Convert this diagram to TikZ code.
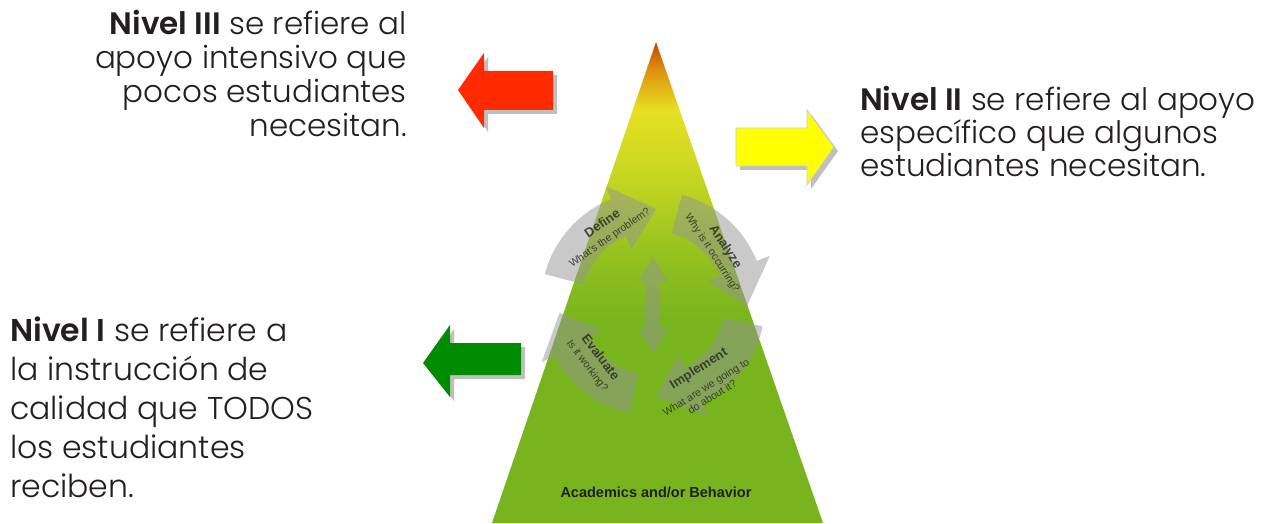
\documentclass[tikz,border=0pt]{standalone}
\usepackage{fontspec}
\setmainfont{Poppins}[UprightFont={* Light}, BoldFont={* SemiBold}]
\newfontfamily\arialfont{Liberation Sans}
\usetikzlibrary{calc}
\definecolor{txt}{HTML}{231F20}
\definecolor{pgreen}{HTML}{78B41E}
\definecolor{pgtwo}{HTML}{96C21F}
\definecolor{pgthree}{HTML}{C4D622}
\definecolor{pyel}{HTML}{E6E022}
\definecolor{porange}{HTML}{E0900F}
\definecolor{pdark}{HTML}{C24800}
\definecolor{redarr}{HTML}{FF2A00}
\definecolor{yelarr}{HTML}{FFFF00}
\definecolor{grnarr}{HTML}{008C00}
\definecolor{cycgray}{HTML}{959595}
\definecolor{cyctext}{HTML}{2A2E24}
\pgfdeclareverticalshading{pyr}{100bp}{color(0bp)=(pgreen); color(25bp)=(pgreen); color(46bp)=(pgreen); color(53.4bp)=(pgtwo); color(60.7bp)=(pgthree); color(67.9bp)=(pyel); color(72.1bp)=(porange); color(75bp)=(pdark); color(100bp)=(pdark)}
\tikzset{
  bigtext/.style={inner sep=0pt, text=txt, font=\fontsize{31}{34}\selectfont},
  cyc/.style={fill=cycgray, fill opacity=0.5},
  cyct/.style={inner sep=0pt, text=cyctext, text opacity=0.85, align=center},
  cyctitle/.style={cyct, font=\arialfont\bfseries\fontsize{13}{13}\selectfont},
  cycsub/.style={cyct, font=\arialfont\fontsize{10.5}{11.5}\selectfont},
  shadowfill/.style={fill=black, fill opacity=0.25},
}
\newcommand\cyclearrow[3]{%
  \fill[cyc] ($(C)+(#1:112)$) arc[start angle=#1, end angle=#2, radius=112]
    -- ($(C)+(#2:126)$) -- ($(C)+(#3:94)$) -- ($(C)+(#2:58)$) -- ($(C)+(#2:72)$)
    arc[start angle=#2, end angle=#1, radius=72] -- cycle;}
\begin{document}
\begin{tikzpicture}[x=1pt,y=1pt]
\useasboundingbox (0,0) rectangle (1271,523);
\fill[white] (0,0) rectangle (1271,523);
% pyramid
\shade[shading=pyr] (656,481) -- (823,0) -- (492,0) -- cycle;
% cycle
\coordinate (C) at (653,220);
\cyclearrow{165}{112}{88}
\cyclearrow{75}{22}{-2}
\cyclearrow{-12}{-64}{-88}
\cyclearrow{-102}{-152}{-174}
% double arrow
\fill[cyc] (646,241) -- (638,241) -- (653,266) -- (668,241) -- (659,241) -- (659,195) -- (668,195) -- (653,170) -- (638,195) -- (646,195) -- cycle;
% cycle texts
\node[cyctitle, rotate=35] (define) at (602,300) {Define};
\node[cycsub, rotate=35] (defq) at (610,285) {What's the problem?};
\node[cyctitle, rotate=-57] (analyze) at (725,276) {Analyze};
\node[cycsub, rotate=-57] (anaq) at (712,270) {Why is it occurring?};
\node[cyctitle, rotate=32] (implement) at (699,154) {Implement};
\node[cycsub, rotate=32] (impq) at (709,131) {What are we going to\\do about it?};
\node[cyctitle, rotate=-53] (evaluate) at (601,166) {Evaluate};
\node[cycsub, rotate=-53] (evalq) at (587,157) {Is it working?};
\node[inner sep=0pt, text=txt, font=\arialfont\bfseries\fontsize{14.5}{14.5}\selectfont] (acad) at (656,31) {Academics and/or Behavior};
% red arrow
\fill[shadowfill] (462,429) -- (488,466) -- (488,448) -- (557,448) -- (557,409) -- (488,409) -- (488,391) -- cycle;
\fill[redarr] (458,433) -- (484,470) -- (484,452) -- (553,452) -- (553,413) -- (484,413) -- (484,395) -- cycle;
% yellow arrow
\fill[shadowfill] (740,391) -- (811,391) -- (811,409) -- (838,372) -- (811,334) -- (811,353) -- (740,353) -- cycle;
\filldraw[fill=yelarr, draw=black!20, line width=0.8pt] (736,395) -- (807,395) -- (807,413) -- (834,376) -- (807,338) -- (807,357) -- (736,357) -- cycle;
% green arrow
\fill[shadowfill] (427,156) -- (454,194) -- (454,176) -- (525,176) -- (525,144) -- (454,144) -- (454,122) -- cycle;
\fill[grnarr] (423,160) -- (450,198) -- (450,180) -- (521,180) -- (521,148) -- (450,148) -- (450,126) -- cycle;
% texts
\node[bigtext, align=right, anchor=base east] (n3) at (407,386) {\textbf{Nivel III} se refiere al\\apoyo intensivo que\\pocos estudiantes\\necesitan.};
\node[bigtext, align=left, anchor=base west, font=\fontsize{31}{33}\selectfont] (n2) at (860,346) {\textbf{Nivel II} se refiere al apoyo\\específico que algunos\\estudiantes necesitan.};
\node[bigtext, align=left, anchor=base west, font=\fontsize{31.5}{39}\selectfont] (n1) at (10,26) {\textbf{Nivel I} se refiere a\\la instrucción de\\calidad que TODOS\\los estudiantes\\reciben.};
\end{tikzpicture}
\end{document}
